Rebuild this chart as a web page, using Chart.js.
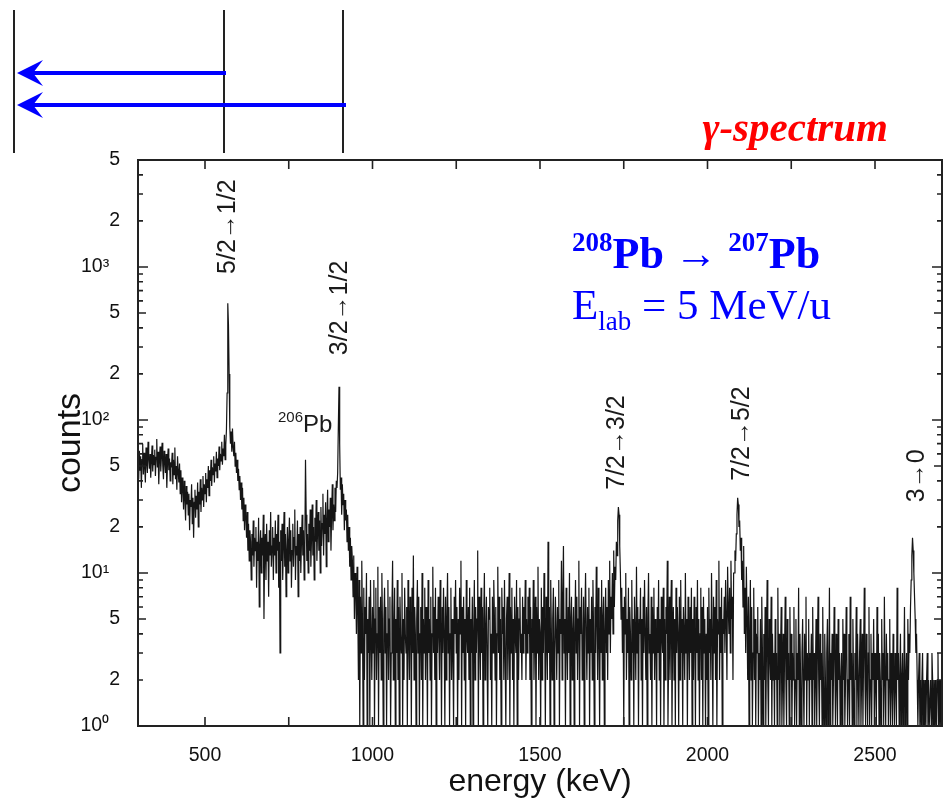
<!DOCTYPE html>
<html>
<head>
<meta charset="utf-8">
<title>γ-spectrum 208Pb → 207Pb</title>
<script src="https://cdn.jsdelivr.net/npm/chart.js@4.4.1/dist/chart.umd.min.js"></script>
<style>
  html, body { margin: 0; padding: 0; background: #fff; }
  #wrap { width: 944px; height: 801px; position: relative; }
</style>
</head>
<body>
<div id="wrap"><canvas id="spectrum"></canvas></div>
<script>
// histogram calibration (keV): each row holds 2 keV bins starting at eStart + 50*row
const eStart = 300;
const rowSpan = 50;
const eStep = 2;

// counts
const countRows = [
  [52,41,63,47,58,36,55,70,44,61,49,39,66,53,45,72,57,48,60,42,54,68,46,59,51],   // 300
  [64,43,57,75,49,62,38,55,67,46,58,71,50,41,63,54,45,60,36,52,65,47,56,40,53],   // 350
  [49,61,38,55,44,66,41,50,35,58,46,39,52,33,47,29,42,36,26,40,31,22,37,28,34],   // 400
  [24,33,19,30,27,38,21,31,17,29,35,23,32,26,39,20,34,28,41,25,36,30,43,27,38],   // 450
  [33,45,29,41,36,50,32,47,40,55,37,49,44,58,39,52,46,62,42,56,50,67,47,60,54],   // 500
  [72,51,65,58,80,55,69,86,150,580,420,200,90,70,84,62,88,66,58,72,50,61,45,55,40], // 550
  [48,35,43,30,39,26,36,22,31,19,28,24,17,25,14,21,12,19,16,9,18,13,22,11,17],    // 600
  [14,20,8,16,12,23,6,15,19,10,17,13,24,5,14,18,9,21,12,16,7,19,13,25,11],        // 650
  [15,20,9,17,13,22,10,18,14,24,8,16,3,19,12,21,9,15,25,11,18,7,14,20,10],        // 700
  [16,23,12,19,8,14,21,11,17,26,9,15,13,22,7,18,12,20,10,16,24,13,19,9,15],       // 750
  [55,24,12,18,10,21,14,26,11,17,28,13,20,9,23,16,30,12,19,25,14,22,10,27,15],    // 800
  [21,33,13,24,18,29,11,22,35,16,26,20,31,14,24,38,19,28,22,36,25,40,36,45,90],   // 850
  [165,70,35,42,24,38,28,33,19,30,22,26,16,24,14,20,11,17,9,15,12,7,13,5,10],     // 900
  [8,4,11,6,2,9,1,7,3,12,5,1,8,2,6,4,10,1,5,3,7,1,9,4,2],                         // 950
  [6,3,9,1,5,8,2,4,11,1,6,3,7,2,10,4,1,5,8,3,6,1,4,9,2],                          // 1000
  [5,7,1,3,6,12,2,4,8,1,5,3,9,2,6,1,7,4,3,10,1,5,2,8,4],                          // 1050
  [3,6,1,9,4,2,7,5,1,8,3,13,2,6,4,1,5,9,3,7,1,4,6,2,10],                          // 1100
  [1,5,3,8,2,6,4,1,9,3,5,2,7,1,4,11,3,6,2,8,1,5,3,7,4],                           // 1150
  [2,9,5,1,6,3,8,4,1,7,2,5,10,3,6,1,4,8,2,5,3,1,7,4,9],                           // 1200
  [3,6,1,5,2,8,4,12,1,6,3,7,2,5,1,9,4,3,6,2,8,1,5,3,7],                           // 1250
  [1,4,9,2,6,3,5,14,1,7,4,2,8,3,6,1,5,10,2,4,7,3,1,6,5],                          // 1300
  [8,2,4,1,7,3,9,5,2,6,1,4,11,3,7,2,5,1,8,4,6,2,9,3,1],                           // 1350
  [5,7,2,4,10,1,6,3,8,2,5,1,7,4,3,9,1,6,2,5,8,3,4,2,7],                           // 1400
  [3,6,4,9,2,5,3,7,4,8,2,6,1,5,3,9,2,4,7,1,6,3,11,2,5],                           // 1450
  [4,1,8,2,6,3,10,5,1,7,4,2,16,3,6,1,9,4,2,5,8,1,3,7,4],                          // 1500
  [2,6,3,9,1,5,4,12,2,7,15,3,5,1,8,4,2,6,3,10,1,5,7,2,4],                         // 1550
  [6,1,4,9,3,7,2,5,12,1,6,4,8,2,3,7,1,5,10,4,2,6,3,8,1],                          // 1600
  [5,3,7,2,9,4,1,6,3,11,5,2,8,4,1,6,3,9,2,5,7,1,4,8,3],                           // 1650
  [6,2,9,4,12,3,7,5,10,4,14,6,11,9,16,13,22,27,24,15,10,5,8,3,6],                 // 1700
  [1,7,4,10,2,5,3,8,1,6,4,2,9,3,5,1,7,4,2,11,3,6,1,5,4],                          // 1750
  [8,2,5,1,7,3,9,4,2,6,1,5,10,3,4,2,7,1,6,3,8,2,5,4,1],                           // 1800
  [6,3,9,2,5,1,7,4,3,8,1,5,2,6,4,12,1,3,7,2,5,9,1,4,6],                           // 1850
  [2,5,1,8,3,6,4,1,7,2,9,3,5,1,6,4,2,10,3,5,1,7,4,2,6],                           // 1900
  [3,8,1,5,2,7,4,1,6,3,9,2,5,1,4,8,2,6,1,7,3,5,1,4,2],                            // 1950
  [6,1,8,3,5,2,10,4,1,7,3,6,2,9,1,5,4,12,2,6,3,8,1,5,4],                          // 2000
  [7,3,9,5,2,11,6,4,8,3,12,5,7,2,10,10,14,12,18,24,31,28,20,22,14],               // 2050
  [17,9,12,6,15,4,8,3,11,5,2,7,1,4,9,2,6,1,3,8,2,5,1,4,3],                        // 2100
  [6,1,3,2,5,1,7,3,1,4,2,6,1,3,9,2,1,5,3,2,7,1,4,2,3],                            // 2150
  [1,5,2,3,1,8,2,4,1,3,6,1,2,4,1,3,7,2,1,5,2,3,1,6,2],                            // 2200
  [4,1,3,2,6,1,2,5,1,3,2,8,1,4,2,1,3,5,2,1,4,2,7,1,3],                            // 2250
  [2,5,1,3,2,4,1,6,2,3,1,2,5,1,3,7,2,1,4,2,3,1,6,2,1],                            // 2300
  [4,2,1,3,5,1,2,8,1,3,2,4,1,2,6,3,1,4,2,1,5,2,3,1,2],                            // 2350
  [3,1,5,2,4,1,2,6,3,1,2,4,1,7,2,3,1,5,2,1,3,2,6,1,4],                            // 2400
  [2,1,3,5,1,2,4,1,3,8,2,1,4,2,1,3,6,1,2,4,1,3,2,5,1],                            // 2450
  [3,2,1,6,2,4,1,3,2,1,5,2,3,1,7,2,1,4,2,3,1,2,5,1,3],                            // 2500
  [2,1,4,2,1,3,2,1,8,2,3,1,2,4,1,2,3,1,2,6,1,2,3,1,5],                            // 2550
  [2,4,3,6,9,13,17,14,10,7,5,3,4,2,1,2,3,1,2,1,2,3,1,2,1],                        // 2600
  [2,1,2,3,1,2,1,1,2,1,3,2,1,2,1,2,1,1,2,3,1,2,1,2,1,2]                           // 2650-2700
];

const xTicks = [500, 1000, 1500, 2000, 2500];
const xTickMarks = [500, 750, 1000, 1250, 1500, 1750, 2000, 2250, 2500];
const yTicks = [1, 2, 5, 10, 20, 50, 100, 200, 500, 1000, 2000, 5000];
const yTickLabels = ['10\u2070', '2', '5', '10\u00b9', '2', '5', '10\u00b2', '2', '5', '10\u00b3', '2', '5'];

// transition labels and the energy they stand over
const peakLabels = ['5/2\u21921/2', '3/2\u21921/2', '7/2\u21923/2', '7/2\u21925/2', '3\u21920'];
const peakEnergies = [569, 903, 1730, 2103, 2625];
// count level at the foot of each rotated label
const peakLabelFoot = [900, 265, 35, 40, 29];

const points = [];
countRows.forEach((row, r) => {
  row.forEach((c, j) => points.push({ x: eStart + r * rowSpan + j * eStep, y: c }));
});

const decor = {
  id: 'decor',
  afterDraw(chart) {
    const ctx = chart.ctx;
    const a = chart.chartArea;
    const xs = chart.scales.x;
    const ys = chart.scales.y;
    ctx.save();

    // frame
    ctx.strokeStyle = '#222';
    ctx.lineWidth = 2;
    ctx.strokeRect(a.left, a.top, a.right - a.left, a.bottom - a.top);

    // tick marks, pointing inward
    ctx.lineWidth = 1.6;
    ctx.beginPath();
    xTickMarks.forEach(v => {
      const px = xs.getPixelForValue(v);
      ctx.moveTo(px, a.bottom); ctx.lineTo(px, a.bottom - 9);
      ctx.moveTo(px, a.top); ctx.lineTo(px, a.top + 9);
    });
    for (let d = 1; d <= 1000; d *= 10) {
      for (let m = 1; m <= 9; m++) {
        const v = d * m;
        if (v > ys.max) break;
        const py = ys.getPixelForValue(v);
        const len = (m === 1) ? 10 : (m === 5 ? 8 : 5);
        ctx.moveTo(a.left, py); ctx.lineTo(a.left + len, py);
        ctx.moveTo(a.right, py); ctx.lineTo(a.right - len, py);
      }
    }
    ctx.stroke();

    // transition labels
    ctx.fillStyle = '#1a1a1a';
    ctx.font = '25px "Liberation Sans", Arial, sans-serif';
    ctx.textAlign = 'left';
    ctx.textBaseline = 'middle';
    peakLabels.forEach((t, i) => {
      ctx.save();
      ctx.translate(xs.getPixelForValue(peakEnergies[i]), ys.getPixelForValue(peakLabelFoot[i]));
      ctx.rotate(-Math.PI / 2);
      ctx.fillText(t, 0, 0);
      ctx.restore();
    });

    // 206Pb contaminant line
    ctx.textBaseline = 'alphabetic';
    let px = xs.getPixelForValue(718);
    const py = ys.getPixelForValue(84);
    ctx.font = '15px "Liberation Sans", Arial, sans-serif';
    ctx.fillText('206', px, py - 10);
    px += ctx.measureText('206').width;
    ctx.font = '24px "Liberation Sans", Arial, sans-serif';
    ctx.fillText('Pb', px, py);

    // headline
    ctx.fillStyle = '#ff0000';
    ctx.textAlign = 'right';
    ctx.font = 'italic bold 41px "Liberation Serif", "Times New Roman", serif';
    ctx.fillText('\u03b3-spectrum', 888, 141);

    // reaction
    ctx.fillStyle = '#0000ff';
    ctx.textAlign = 'left';
    const big = 'bold 44px "Liberation Serif", "Times New Roman", serif';
    const sup = 'bold 27px "Liberation Serif", "Times New Roman", serif';
    const plain = '43px "Liberation Serif", "Times New Roman", serif';
    const seq = [['208', sup, -17], ['Pb', big, 0], [' \u2192 ', plain, 0], ['207', sup, -17], ['Pb', big, 0]];
    let tx = 572;
    seq.forEach(([t, f, dy]) => {
      ctx.font = f;
      ctx.fillText(t, tx, 268 + dy);
      tx += ctx.measureText(t).width;
    });
    const seq2 = [['E', plain, 0], ['lab', '27px "Liberation Serif", serif', 11], [' = 5 MeV/u', plain, 0]];
    tx = 572;
    seq2.forEach(([t, f, dy]) => {
      ctx.font = f;
      ctx.fillText(t, tx, 319 + dy);
      tx += ctx.measureText(t).width;
    });

    // level scheme sketch above the frame
    ctx.strokeStyle = '#222';
    ctx.lineWidth = 2;
    ctx.beginPath();
    [14, 224, 343].forEach(x => { ctx.moveTo(x, 10); ctx.lineTo(x, 153); });
    ctx.stroke();
    ctx.strokeStyle = '#0000ff';
    ctx.fillStyle = '#0000ff';
    ctx.lineWidth = 4;
    [[226, 73], [346, 105]].forEach(([x0, y0]) => {
      ctx.beginPath();
      ctx.moveTo(x0, y0); ctx.lineTo(30, y0);
      ctx.stroke();
      ctx.beginPath();
      ctx.moveTo(17, y0);
      ctx.lineTo(43, y0 - 13);
      ctx.lineTo(33, y0);
      ctx.lineTo(43, y0 + 13);
      ctx.closePath();
      ctx.fill();
    });
    ctx.restore();
  }
};

const tickFont = { family: '"Liberation Sans", Arial, sans-serif', size: 19.5 };

new Chart(document.getElementById('spectrum'), {
  type: 'line',
  data: {
    datasets: [{
      data: points,
      borderColor: '#151515',
      borderWidth: 1.2,
      pointRadius: 0,
      tension: 0,
      fill: false
    }]
  },
  options: {
    responsive: true,
    maintainAspectRatio: false,
    animation: false,
    events: [],
    layout: { padding: { left: 0, top: 160, right: 2, bottom: 0 } },
    plugins: { legend: { display: false }, tooltip: { enabled: false } },
    scales: {
      x: {
        type: 'linear',
        min: 300,
        max: 2700,
        grid: { display: false },
        border: { display: false },
        afterBuildTicks: s => { s.ticks = xTicks.map(v => ({ value: v })); },
        afterFit: s => { s.height = 75; },
        ticks: { color: '#111', font: tickFont, padding: 10, maxRotation: 0, autoSkip: false, callback: v => String(v) },
        title: {
          display: true,
          text: 'energy (keV)',
          color: '#111',
          font: { family: '"Liberation Sans", Arial, sans-serif', size: 32, lineHeight: 1 },
          padding: { top: 0, bottom: 3 }
        }
      },
      y: {
        type: 'logarithmic',
        min: 1,
        max: 5000,
        grid: { display: false },
        border: { display: false },
        afterBuildTicks: s => { s.ticks = yTicks.map(v => ({ value: v })); },
        afterFit: s => { s.width = 138; },
        ticks: {
          color: '#111',
          font: tickFont,
          padding: 10,
          autoSkip: false,
          callback: (v, i) => yTickLabels[i].length > 1 ? yTickLabels[i] + '  ' : yTickLabels[i]
        },
        title: {
          display: true,
          text: 'counts',
          color: '#111',
          font: { family: '"Liberation Sans", Arial, sans-serif', size: 34, lineHeight: 1 },
          padding: { top: 54, bottom: 0 }
        }
      }
    }
  },
  plugins: [decor]
});
</script>
</body>
</html>
